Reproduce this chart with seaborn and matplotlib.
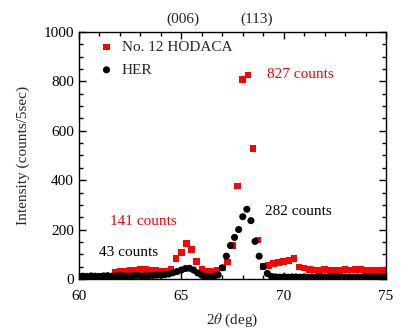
import pandas as pd
import matplotlib
matplotlib.use("Agg")
import matplotlib.pyplot as plt
import matplotlib.transforms as mtransforms
from matplotlib.ticker import MultipleLocator
import seaborn as sns

# HER sample (black circles)
her_2theta = [60.0, 60.2, 60.4, 60.6, 60.8, 61.0, 61.2, 61.4, 61.6, 61.8,
              62.0, 62.2, 62.4, 62.6, 62.8, 63.0, 63.2, 63.4, 63.6, 63.8,
              64.0, 64.2, 64.4, 64.6, 64.8, 65.0, 65.2, 65.4, 65.6, 65.8,
              66.0, 66.2, 66.4, 66.6, 66.8, 67.0, 67.2, 67.4, 67.6, 67.8,
              68.0, 68.2, 68.4, 68.6, 68.8, 69.0, 69.2, 69.4, 69.6, 69.8,
              70.0, 70.2, 70.4, 70.6, 70.8, 71.0, 71.2, 71.4, 71.6, 71.8,
              72.0, 72.2, 72.4, 72.6, 72.8, 73.0, 73.2, 73.4, 73.6, 73.8,
              74.0, 74.2, 74.4, 74.6, 74.8, 75.0]
her_counts = [10, 11, 10, 12, 11, 10, 12, 13, 11, 12,
              13, 12, 11, 12, 14, 13, 12, 13, 14, 15,
              15, 17, 20, 25, 30, 36, 42, 43, 36, 24,
              15, 11, 9, 10, 16, 45, 92, 135, 168, 200,
              252, 282, 236, 152, 92, 50, 22, 10, 8, 7,
              8, 7, 8, 8, 7, 8, 7, 8, 8, 7,
              8, 7, 8, 8, 7, 8, 8, 7, 8, 7,
              8, 8, 7, 8, 7, 8]

# No. 12 HODACA (red squares)
hodaca_2theta = [61.75, 62.0, 62.25, 62.5, 62.75, 63.0, 63.25, 63.5, 63.75,
                 64.0, 64.25, 64.5, 64.75, 65.0, 65.25, 65.5, 65.75,
                 66.0, 66.25, 66.5, 66.75, 67.0, 67.25, 67.5, 67.75,
                 68.0, 68.25, 68.5, 68.75, 69.0, 69.25, 69.5, 69.75,
                 70.0, 70.25, 70.5, 70.75, 71.0, 71.25, 71.5, 71.75,
                 72.0, 72.25, 72.5, 72.75, 73.0, 73.25, 73.5, 73.75,
                 74.0, 74.25, 74.5, 74.75, 75.0]
hodaca_counts = [28, 30, 32, 34, 36, 40, 38, 36, 35,
                 32, 30, 38, 82, 107, 143, 120, 70,
                 40, 32, 30, 35, 45, 68, 136, 376,
                 808, 827, 529, 157, 50, 55, 62, 66,
                 70, 75, 82, 48, 44, 38, 36, 35,
                 38, 35, 33, 35, 38, 36, 38, 38,
                 33, 35, 33, 35, 33]

peak_labels = ["(006)", "(113)"]
peak_pos = [65.1, 68.7]

her = pd.DataFrame({"two_theta": her_2theta, "counts": her_counts})
hodaca = pd.DataFrame({"two_theta": hodaca_2theta, "counts": hodaca_counts})

sns.set_style("ticks")
plt.rcParams["font.family"] = ["Liberation Serif", "DejaVu Serif"]
plt.rcParams["mathtext.fontset"] = "stix"

fig = plt.figure(figsize=(4.09, 3.34), dpi=100)
ax = fig.add_axes([0.193, 0.165, 0.751, 0.739])

sns.scatterplot(x="two_theta", y="counts", data=hodaca, marker="s", s=22,
                color="#ff0000", edgecolor="none", label="No. 12 HODACA", ax=ax)
sns.scatterplot(x="two_theta", y="counts", data=her, marker="o", s=26,
                color="black", edgecolor="none", label="HER", ax=ax)

ax.set_xlim(60, 75)
ax.set_ylim(0, 1000)
ax.xaxis.set_major_locator(MultipleLocator(5))
ax.xaxis.set_minor_locator(MultipleLocator(1))
ax.yaxis.set_major_locator(MultipleLocator(200))
ax.yaxis.set_minor_locator(MultipleLocator(50))
ax.tick_params(which="both", direction="in", top=True, right=True,
               labelsize=11, width=1, colors="black")
ax.tick_params(which="major", length=5)
ax.tick_params(which="minor", length=3)
ax.tick_params(axis="x", pad=8)
for sp in ax.spines.values():
    sp.set_linewidth(1)
    sp.set_color("black")

ax.set_xlabel(r"2$\theta$ (deg)", fontsize=11, labelpad=6)
ax.set_ylabel("Intensity (counts/5sec)", fontsize=11, labelpad=10)

# peak indices above the top axis
trans = mtransforms.blended_transform_factory(ax.transData, ax.transAxes)
for lab, pos in zip(peak_labels, peak_pos):
    ax.text(pos, 1.025, lab, transform=trans, ha="center", va="bottom", fontsize=11)

ax.text(69.2, 827, "827 counts", color="#ff0000", fontsize=11, va="center")
ax.text(69.1, 275, "282 counts", color="black", fontsize=11, va="center")
ax.text(61.5, 232, "141 counts", color="#ff0000", fontsize=11, va="center")
ax.text(61.0, 107, "43 counts", color="black", fontsize=11, va="center")

plt.legend(loc="upper left", bbox_to_anchor=(0.03, 1.01), frameon=False,
           fontsize=11, handlelength=1.0, handletextpad=0.5,
           labelspacing=0.6, borderaxespad=0.3, borderpad=0.4)

plt.savefig("out.png", dpi=100)
